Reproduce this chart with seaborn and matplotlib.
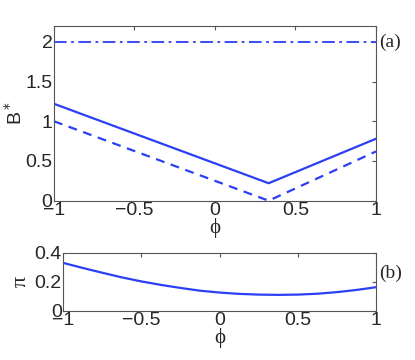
import numpy as np
import pandas as pd
import seaborn as sns
import matplotlib.pyplot as plt

# panel (a): B* versus phi
phi_a = [-1.0, 1/3, 1.0]
b_solid = [1.22, 0.22, 0.78]
b_dash = [1.0, 0.0, 0.62]
b_dashdot = [2.0, 2.0, 2.0]

# panel (b): pi versus phi
phi_b = [-1.0, -0.875, -0.75, -0.625, -0.5, -0.375, -0.25, -0.125, 0.0,
         0.125, 0.25, 0.375, 0.5, 0.625, 0.75, 0.875, 1.0]
pi_vals = [0.33, 0.295, 0.262, 0.23, 0.202, 0.178, 0.157, 0.138, 0.125,
           0.116, 0.111, 0.109, 0.111, 0.117, 0.128, 0.143, 0.162]

blue = "#2b3ff5"
sns.set_style("white")
plt.rcParams["font.family"] = ["Liberation Sans", "DejaVu Sans"]
plt.rcParams["xtick.direction"] = "in"
plt.rcParams["ytick.direction"] = "in"

fig = plt.figure(figsize=(4.15, 3.6), dpi=100)
ax1 = fig.add_axes([0.130, 0.4425, 0.776, 0.4855])
ax2 = fig.add_axes([0.152, 0.137, 0.754, 0.161])

df_a = pd.DataFrame({"phi": phi_a, "solid": b_solid, "dash": b_dash, "dashdot": b_dashdot})
sns.lineplot(data=df_a, x="phi", y="solid", ax=ax1, color=blue, lw=1.6)
sns.lineplot(data=df_a, x="phi", y="dash", ax=ax1, color=blue, lw=1.6, linestyle=(0, (4, 3)))
sns.lineplot(data=df_a, x="phi", y="dashdot", ax=ax1, color=blue, lw=1.3, linestyle=(0, (7, 2.5, 1.5, 2.5)))

df_b = pd.DataFrame({"phi": phi_b, "pi": pi_vals})
sns.lineplot(data=df_b, x="phi", y="pi", ax=ax2, color=blue, lw=1.6)

serif = ["Liberation Serif", "DejaVu Serif"]
for ax, ylim, yt in [(ax1, (0, 2.2), [0, 0.5, 1, 1.5, 2]), (ax2, (0, 0.4), [0, 0.2, 0.4])]:
    ax.set_xlim(-1, 1)
    ax.set_ylim(*ylim)
    ax.set_xticks([-1, -0.5, 0, 0.5, 1])
    ax.set_xticklabels(["\u22121", "\u22120.5", "0", "0.5", "1"])
    ax.set_yticks(yt)
    ax.set_yticklabels([("%g" % v) for v in yt])
    ax.tick_params(labelsize=14, length=3, color="#555555", top=True, right=True, pad=1)
    for s in ax.spines.values():
        s.set_color("#555555")
        s.set_linewidth(0.8)
    ax.set_xlabel("\u03d5", family=serif, fontsize=15, labelpad=-1)

ax1.set_ylabel("B$^*$", fontsize=14, labelpad=0)
ax2.set_ylabel("\u03c0", family=serif, fontsize=16, labelpad=3)

fig.text(0.913, 0.882, "(a)", family=serif, fontsize=14, va="center")
fig.text(0.913, 0.242, "(b)", family=serif, fontsize=14, va="center")

fig.savefig("out.png", dpi=100)
